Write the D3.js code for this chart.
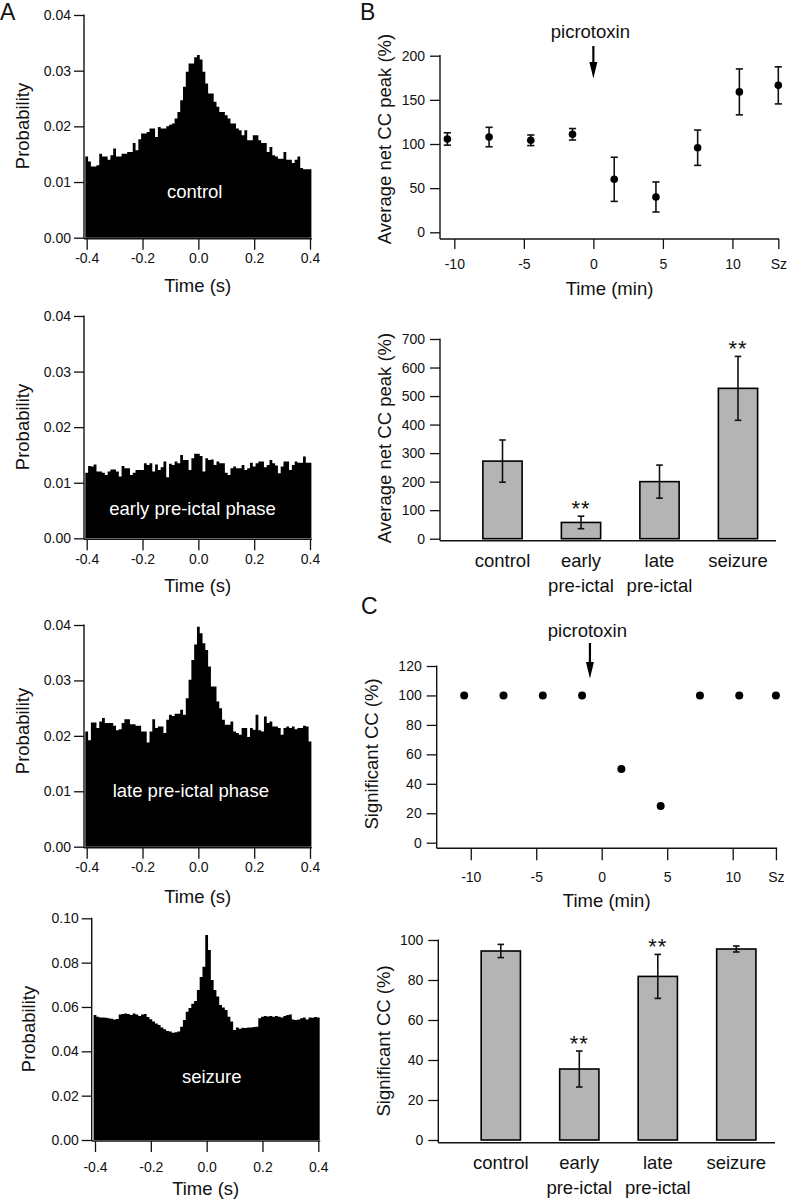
<!DOCTYPE html>
<html><head><meta charset="utf-8">
<script src="https://cdn.jsdelivr.net/npm/d3@7"></script>
<style>
body{margin:0;background:#fff}
svg text{font-family:"Liberation Sans",Arial,Helvetica,sans-serif;fill:#111}
</style>
</head><body>
<svg id="fig" width="789" height="1199"></svg>
<script>
// ---------------- DATA ----------------
const histTicks = [-0.4, -0.2, 0.0, 0.2, 0.4];
const histBin = 0.01;
const controlHist = [0.0146,0.0137,0.0128,0.0128,0.013,0.0151,0.0146,0.0146,0.014,0.0148,0.016,0.0146,0.0146,0.0151,0.0151,0.0154,0.0154,0.017,0.0157,0.0177,
 0.0187,0.0187,0.019,0.0196,0.0196,0.0181,0.0199,0.0196,0.0196,0.02,0.0203,0.0205,0.0214,0.0226,0.0247,0.0271,0.0298,0.0313,0.0313,0.0324,
 0.0328,0.032,0.0298,0.0277,0.0259,0.0259,0.0244,0.0235,0.0226,0.0226,0.022,0.0214,0.0205,0.0205,0.0196,0.0193,0.0184,0.0193,0.0175,0.0175,
 0.0184,0.0184,0.0175,0.017,0.017,0.0154,0.0163,0.0148,0.0146,0.0142,0.0142,0.0154,0.014,0.014,0.0134,0.014,0.0146,0.0125,0.0123,0.0123,0.0123];
const earlyHist = [0.0118,0.013,0.0129,0.0133,0.012,0.012,0.0118,0.0114,0.012,0.0124,0.0124,0.012,0.0111,0.013,0.0126,0.0126,0.0114,0.0118,0.0123,0.0123,
 0.0123,0.0135,0.0132,0.0135,0.012,0.0133,0.0123,0.0128,0.0138,0.011,0.0134,0.0132,0.0138,0.0135,0.015,0.0141,0.0141,0.0123,0.0144,0.0152,
 0.0152,0.0148,0.012,0.0144,0.0141,0.0142,0.0132,0.0138,0.0135,0.0135,0.0118,0.0114,0.0126,0.0129,0.0126,0.0126,0.0132,0.0123,0.0126,0.0136,
 0.0129,0.0135,0.0138,0.0138,0.0128,0.0132,0.0141,0.0135,0.0131,0.0117,0.0129,0.0138,0.0138,0.0123,0.0132,0.0138,0.0136,0.0136,0.0147,0.0136,0.0136];
const lateHist = [0.0208,0.0192,0.0224,0.0224,0.0214,0.0226,0.0232,0.0223,0.0223,0.0223,0.0218,0.021,0.0212,0.0223,0.023,0.023,0.0221,0.0221,0.0218,0.0218,
 0.0208,0.0208,0.0188,0.0208,0.023,0.0214,0.0217,0.0217,0.0205,0.0229,0.0238,0.0236,0.024,0.024,0.0247,0.0238,0.0268,0.0301,0.0337,0.0365,
 0.0397,0.0385,0.0367,0.0355,0.0325,0.0289,0.0289,0.0262,0.025,0.0229,0.022,0.022,0.0226,0.0208,0.0205,0.0202,0.0214,0.0214,0.0198,0.0214,
 0.0211,0.0238,0.021,0.0208,0.0235,0.0223,0.0226,0.0217,0.0217,0.0214,0.0202,0.0214,0.0217,0.0214,0.0217,0.0212,0.0214,0.0214,0.0218,0.0217,0.019];
const seizureHist = [0.0564,0.0556,0.0553,0.0553,0.0551,0.0549,0.0547,0.0544,0.0546,0.0566,0.0568,0.0571,0.0568,0.0564,0.0571,0.0566,0.0559,0.0566,0.0568,0.0555,
 0.0545,0.0534,0.0526,0.0519,0.0508,0.0499,0.0492,0.0489,0.0484,0.0486,0.0489,0.0511,0.0541,0.0579,0.0595,0.0615,0.0627,0.0677,0.0735,0.0782,
 0.0925,0.0857,0.0722,0.0677,0.0647,0.0609,0.0598,0.0586,0.0556,0.0534,0.0496,0.0508,0.0502,0.0506,0.0505,0.0508,0.0508,0.051,0.0511,0.0549,
 0.0556,0.0559,0.0557,0.0559,0.0556,0.0559,0.0556,0.0553,0.0559,0.0564,0.0566,0.0544,0.0541,0.0544,0.0549,0.0553,0.0544,0.0553,0.0551,0.0555,0.0553];
const histNames = ["control", "early pre-ictal phase", "late pre-ictal phase", "seizure"];
const probTicksSmall = [0, 0.01, 0.02, 0.03, 0.04];
const probTicksLarge = [0, 0.02, 0.04, 0.06, 0.08, 0.10];

const timeTicks = [-10, -5, 0, 5, 10];
const szPos = 13.3;              // position of the "Sz" column on the time axis
const ccTimes = [-10.5, -7.5, -4.5, -1.5, 1.5, 4.5, 7.5, 10.5, "Sz"];
const ccPeak = [105.7, 107.9, 104.2, 111, 60, 40, 95.8, 159, 166.4];
const ccPeakErr = [7, 11, 6, 6.5, 25, 17, 20, 26, 21];
const sigCC = [100, 100, 100, 100, 50, 25, 100, 100, 100];
const picroB = 0, picroC = -0.9;
const peakTicks = [0, 50, 100, 150, 200];
const sigTicks = [0, 20, 40, 60, 80, 100, 120];

const phases = [["control"], ["early", "pre-ictal"], ["late", "pre-ictal"], ["seizure"]];
const phaseNetPeak = [272, 57, 200, 527];
const phaseNetPeakErr = [74, 22, 58, 112];
const netPeakStars = ["", "**", "", "**"];
const netPeakTicks = [0, 100, 200, 300, 400, 500, 600, 700];
const phaseSig = [94.5, 35.5, 81.8, 95.5];
const phaseSigErr = [3.3, 9, 11, 1.5];
const sigStars = ["", "**", "**", ""];
const sigBarTicks = [0, 20, 40, 60, 80, 100];

// ---------------- HELPERS ----------------
const svg = d3.select("#fig");
const INK = "#111";
const TICKF = 14, TITLEF = 18.5;
const fmt1 = d => d.toFixed(1);
const fmt2 = d => d.toFixed(2);
const fmtInt = d => String(d);

function styleAxis(g) {
  g.attr("font-family", '"Liberation Sans", Arial, Helvetica, sans-serif').attr("font-size", TICKF);
  g.select(".domain").remove();
  g.selectAll(".tick line").attr("stroke", INK).attr("stroke-width", 1.3);
  g.selectAll(".tick text").attr("fill", INK);
}
function yAxis(scale, x, ticks, fmt, bottomY, pad) {
  const g = svg.append("g").attr("transform", `translate(${x},0)`)
    .call(d3.axisLeft(scale).tickValues(ticks).tickFormat(fmt).tickSize(10).tickSizeOuter(0).tickPadding(pad));
  styleAxis(g);
  svg.append("line").attr("x1", x).attr("x2", x).attr("y1", scale(ticks[ticks.length - 1]) - 0.6).attr("y2", bottomY)
    .attr("stroke", INK).attr("stroke-width", 1.4);
}
function xAxis(scale, y, ticks, fmt, x1, x2, size, pad) {
  if (ticks) {
    const g = svg.append("g").attr("transform", `translate(0,${y})`)
      .call(d3.axisBottom(scale).tickValues(ticks).tickFormat(fmt).tickSize(size).tickSizeOuter(0).tickPadding(pad));
    styleAxis(g);
  }
  svg.append("line").attr("x1", x1).attr("x2", x2).attr("y1", y).attr("y2", y).attr("stroke", INK).attr("stroke-width", 1.4);
}
function vText(txt, x, y) {
  svg.append("text").attr("transform", `translate(${x},${y}) rotate(-90)`).attr("text-anchor", "middle")
    .attr("font-size", TITLEF).text(txt);
}
function hText(txt, x, y, size, color) {
  return svg.append("text").attr("x", x).attr("y", y).attr("text-anchor", "middle")
    .attr("font-size", size || TITLEF).style("fill", color || INK).text(txt);
}
function letter(t, x, y) {
  svg.append("text").attr("x", x).attr("y", y).attr("font-size", 23).text(t);
}

// ---------------- PANEL A: histograms ----------------
const histCfg = [
  {data: controlHist, ticks: probTicksSmall, xL: 86.7, xR: 310, yAxisX: 84, yTop: 15, y0: 237.7, axisY: 238.7, pad: 3.7, titleY: 292.3, labY: 126, nameX: 194.7, nameY: 198.3, probX: 29},
  {data: earlyHist, ticks: probTicksSmall, xL: 86.7, xR: 310, yAxisX: 84, yTop: 316, y0: 538.3, axisY: 539.2, pad: 3.7, titleY: 592.3, labY: 427, nameX: 192.5, nameY: 515, probX: 29},
  {data: lateHist, ticks: probTicksSmall, xL: 86.7, xR: 310, yAxisX: 84, yTop: 625, y0: 846.7, axisY: 847.8, pad: 3.7, titleY: 903.3, labY: 731, nameX: 190.8, nameY: 796.7, probX: 29},
  {data: seizureHist, ticks: probTicksLarge, xL: 95, xR: 318.3, yAxisX: 91.7, yTop: 918.3, y0: 1140, axisY: 1141, pad: 10, titleY: 1195, labY: 1029, nameX: 211.7, nameY: 1082.7, probX: 35}
];
histCfg.forEach((c, k) => {
  const xs = d3.scaleLinear().domain([histTicks[0], histTicks[histTicks.length - 1]]).range([c.xL, c.xR]);
  const ys = d3.scaleLinear().domain([0, c.ticks[c.ticks.length - 1]]).range([c.y0, c.yTop]);
  // step outline: left edge of each bin, plus closing right edge of the last bin
  const pts = c.data.map((v, i) => ({t: histTicks[0] + i * histBin - histBin / 2, v}));
  pts.push({t: pts[pts.length - 1].t + histBin, v: c.data[c.data.length - 1]});
  const area = d3.area().curve(d3.curveStepAfter).x(d => xs(d.t)).y0(ys(0)).y1(d => ys(d.v));
  svg.append("path").datum(pts).attr("d", area).attr("fill", "#000");
  yAxis(ys, c.yAxisX, c.ticks, fmt2, c.axisY, 3);
  xAxis(xs, c.axisY, histTicks, fmt1, c.yAxisX, xs(0.405) + 0.5, 11, c.pad);
  vText("Probability", c.probX, c.labY);
  hText("Time (s)", (c.yAxisX + xs(0.405)) / 2, c.titleY);
  hText(histNames[k], c.nameX, c.nameY, TITLEF, "#fff");
});
letter("A", 0, 20);

// ---------------- PANEL B top: time course of net CC peak ----------------
{
  const xs = d3.scaleLinear().domain([-11.03, 13.35]).range([440, 779]);
  const ys = d3.scaleLinear().domain([0, 200]).range([232.3, 55.7]);
  const axisY = 239;
  const tx = t => xs(t === "Sz" ? szPos : t);
  yAxis(ys, 440, peakTicks, fmtInt, axisY, 5);
  xAxis(xs, axisY, timeTicks.concat([szPos]), d => d === szPos ? "Sz" : fmtInt(d), 440, 779, 10, 10.4);
  const g = svg.append("g");
  ccTimes.forEach((t, i) => {
    const x = tx(t), v = ccPeak[i], e = ccPeakErr[i];
    g.append("line").attr("x1", x).attr("x2", x).attr("y1", ys(v - e)).attr("y2", ys(v + e)).attr("stroke", INK).attr("stroke-width", 1.6);
    [v - e, v + e].forEach(b => g.append("line").attr("x1", x - 3.6).attr("x2", x + 3.6).attr("y1", ys(b)).attr("y2", ys(b)).attr("stroke", INK).attr("stroke-width", 1.6));
    g.append("circle").attr("cx", x).attr("cy", ys(v)).attr("r", 3.8).attr("fill", "#000");
  });
  const ax = xs(picroB);
  hText("picrotoxin", ax - 3, 38.3);
  svg.append("line").attr("x1", ax).attr("x2", ax).attr("y1", 46).attr("y2", 64).attr("stroke", "#000").attr("stroke-width", 2.2);
  svg.append("path").attr("d", `M${ax - 4},62 L${ax + 4},62 L${ax},78.5 Z`).attr("fill", "#000");
  vText("Average net CC peak (%)", 391, 139);
  hText("Time (min)", (440 + 779) / 2, 295);
  letter("B", 360, 20);
}

// ---------------- bar chart helper ----------------
function barPanel(cfg) {
  const xb = d3.scaleBand().domain(d3.range(phases.length)).range(cfg.range).paddingInner(0.5).paddingOuter(0.25);
  const ys = d3.scaleLinear().domain([0, cfg.ticks[cfg.ticks.length - 1]]).range([cfg.y0, cfg.yTop]);
  yAxis(ys, cfg.yAxisX, cfg.ticks, fmtInt, cfg.axisY, 5);
  xAxis(null, cfg.axisY, null, null, cfg.yAxisX, cfg.xEnd);
  const g = svg.append("g");
  cfg.vals.forEach((v, i) => {
    g.append("rect").attr("x", xb(i)).attr("width", xb.bandwidth()).attr("y", ys(v)).attr("height", ys(0) - ys(v))
      .attr("fill", "#b4b4b4").attr("stroke", "#000").attr("stroke-width", 1.6);
    const cx = xb(i) + xb.bandwidth() / 2, e = cfg.errs[i];
    g.append("line").attr("x1", cx).attr("x2", cx).attr("y1", ys(v - e)).attr("y2", ys(v + e)).attr("stroke", INK).attr("stroke-width", 1.6);
    [v - e, v + e].forEach(b => g.append("line").attr("x1", cx - 3.3).attr("x2", cx + 3.3).attr("y1", ys(b)).attr("y2", ys(b)).attr("stroke", INK).attr("stroke-width", 1.6));
    if (cfg.stars[i]) {
      g.append("text").attr("x", cx).attr("y", ys(v + e) - 13 + 0.57 * 22).attr("text-anchor", "middle")
        .attr("font-size", 22).attr("letter-spacing", "1px").text(cfg.stars[i]);
    }
    phases[i].forEach((line, j) => hText(line, cx, cfg.axisY + 26 + j * 25.5));
  });
  vText(cfg.label, cfg.labX, cfg.labY);
}

// ---------------- PANEL B bottom ----------------
barPanel({range: [463.25, 777.25], ticks: netPeakTicks, y0: 538.7, yTop: 339, yAxisX: 440, axisY: 540.7, xEnd: 776,
  vals: phaseNetPeak, errs: phaseNetPeakErr, stars: netPeakStars, label: "Average net CC peak (%)", labX: 391, labY: 438});

// ---------------- PANEL C top: significant CC ----------------
{
  const xs = d3.scaleLinear().domain([-12.6, 13.36]).range([436.7, 776.7]);
  const ys = d3.scaleLinear().domain([0, 120]).range([842.7, 666]);
  const axisY = 848.3;
  const tx = t => xs(t === "Sz" ? szPos : t);
  yAxis(ys, 436.7, sigTicks, fmtInt, axisY, 5);
  xAxis(xs, axisY, timeTicks.concat([szPos]), d => d === szPos ? "Sz" : fmtInt(d), 436.7, 777.2, 12, 11.5);
  svg.append("g").selectAll("circle").data(sigCC).join("circle")
    .attr("cx", (d, i) => tx(ccTimes[i])).attr("cy", d => ys(d)).attr("r", 4).attr("fill", "#000");
  const ax = xs(picroC);
  hText("picrotoxin", ax - 2.5, 636.7);
  svg.append("line").attr("x1", ax).attr("x2", ax).attr("y1", 643).attr("y2", 664).attr("stroke", "#000").attr("stroke-width", 2.2);
  svg.append("path").attr("d", `M${ax - 4},662 L${ax + 4},662 L${ax},678.5 Z`).attr("fill", "#000");
  vText("Significant CC (%)", 378, 754);
  hText("Time (min)", (436.7 + 776.7) / 2, 906.7);
  letter("C", 361, 614);
}

// ---------------- PANEL C bottom ----------------
barPanel({range: [461.55, 775.55], ticks: sigBarTicks, y0: 1140, yTop: 940, yAxisX: 438.3, axisY: 1142.7, xEnd: 775,
  vals: phaseSig, errs: phaseSigErr, stars: sigStars, label: "Significant CC (%)", labX: 390, labY: 1041});
</script>
</body></html>
